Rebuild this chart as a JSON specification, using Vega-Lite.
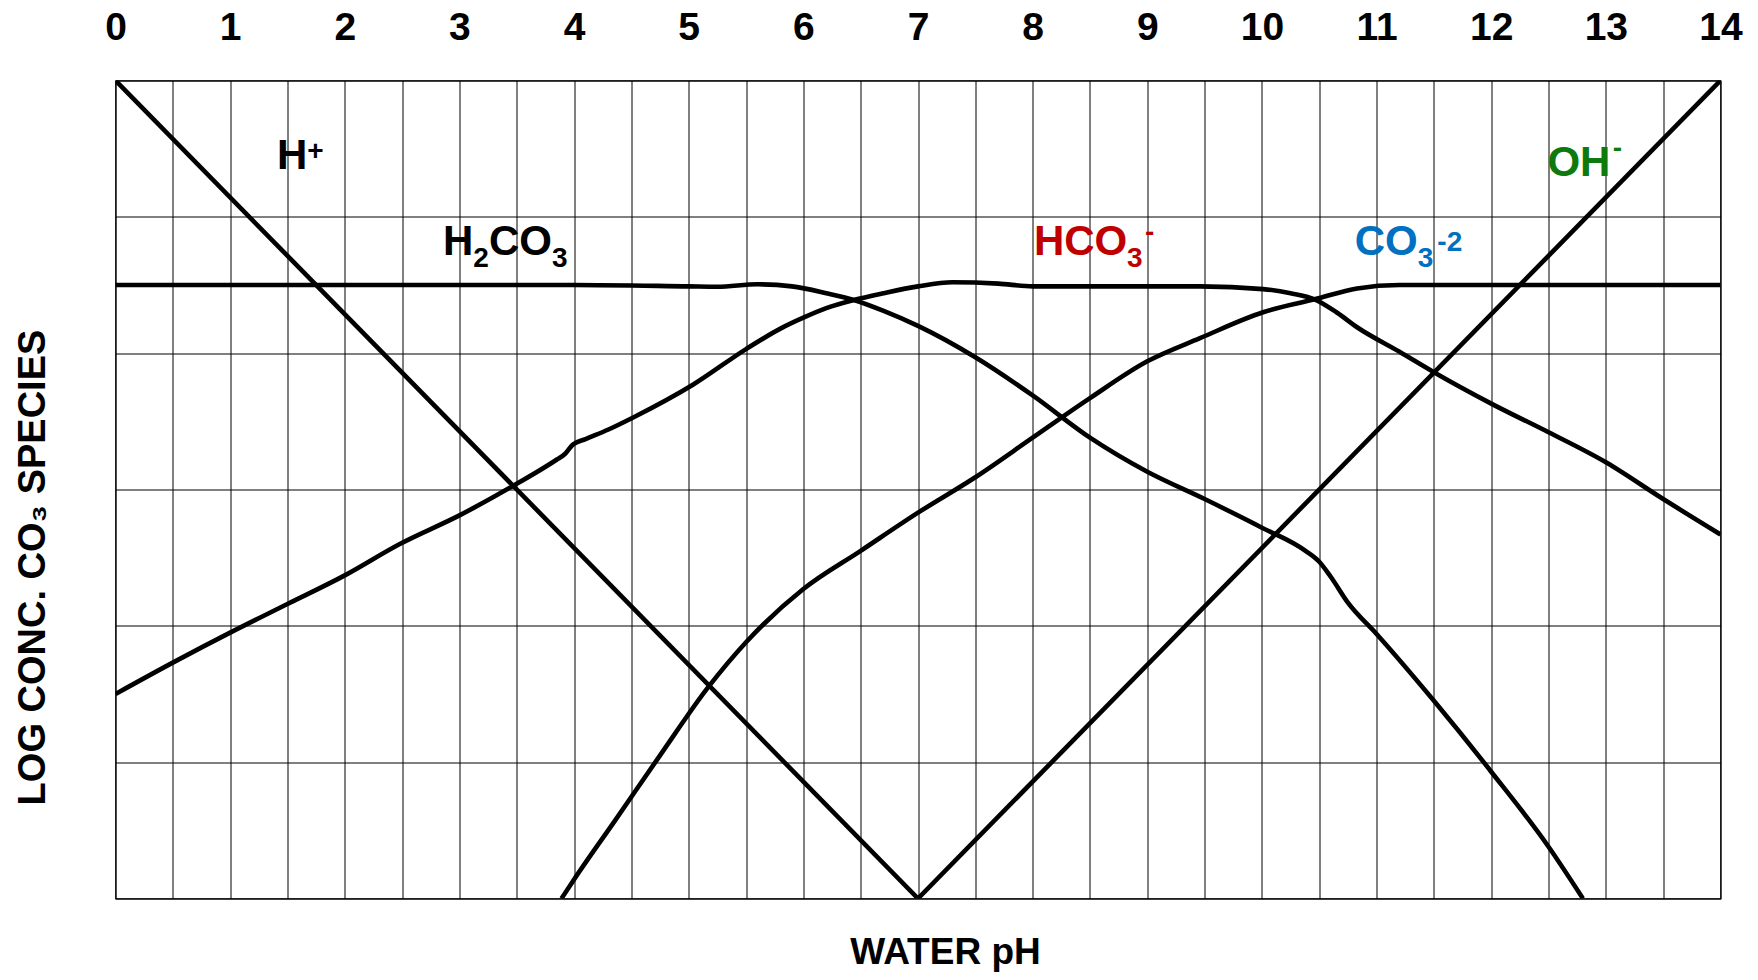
{
  "$schema": "https://vega.github.io/schema/vega-lite/v6.json",
  "width": 1605,
  "height": 818,
  "autosize": {"type": "none"},
  "padding": {"left": 115.5, "top": 80.5, "right": 37.5, "bottom": 81.5},
  "background": "white",
  "config": {"view": {"stroke": "black", "strokeWidth": 1.2}, "font": "Liberation Sans"},
  "title": {"text": "WATER pH", "orient": "bottom", "anchor": "middle", "fontSize": 37, "font": "Liberation Sans", "fontWeight": "bold", "color": "black", "dx": 27.5, "offset": 36},
  "datasets": {
    "curves": [
      {"series": "H+", "ph": 0, "level": 6},
      {"series": "H+", "ph": 7, "level": 0},
      {"series": "OH-", "ph": 7, "level": 0},
      {"series": "OH-", "ph": 14, "level": 6},
      {"series": "H2CO3", "ph": 0, "level": 4.5},
      {"series": "H2CO3", "ph": 2, "level": 4.5},
      {"series": "H2CO3", "ph": 4, "level": 4.5},
      {"series": "H2CO3", "ph": 5, "level": 4.49},
      {"series": "H2CO3", "ph": 5.25, "level": 4.487},
      {"series": "H2CO3", "ph": 5.6, "level": 4.505},
      {"series": "H2CO3", "ph": 5.9, "level": 4.49},
      {"series": "H2CO3", "ph": 6.2, "level": 4.44},
      {"series": "H2CO3", "ph": 6.44, "level": 4.39},
      {"series": "H2CO3", "ph": 6.7, "level": 4.31},
      {"series": "H2CO3", "ph": 7, "level": 4.2},
      {"series": "H2CO3", "ph": 7.5, "level": 3.97},
      {"series": "H2CO3", "ph": 8, "level": 3.69},
      {"series": "H2CO3", "ph": 8.5, "level": 3.38},
      {"series": "H2CO3", "ph": 9, "level": 3.13},
      {"series": "H2CO3", "ph": 9.5, "level": 2.93},
      {"series": "H2CO3", "ph": 10, "level": 2.72},
      {"series": "H2CO3", "ph": 10.38, "level": 2.55},
      {"series": "H2CO3", "ph": 10.5, "level": 2.47},
      {"series": "H2CO3", "ph": 10.6, "level": 2.36},
      {"series": "H2CO3", "ph": 10.75, "level": 2.17},
      {"series": "H2CO3", "ph": 11, "level": 1.94},
      {"series": "H2CO3", "ph": 11.5, "level": 1.45},
      {"series": "H2CO3", "ph": 12, "level": 0.93},
      {"series": "H2CO3", "ph": 12.5, "level": 0.38},
      {"series": "H2CO3", "ph": 12.8, "level": 0},
      {"series": "HCO3-", "ph": 0, "level": 1.5},
      {"series": "HCO3-", "ph": 0.5, "level": 1.73},
      {"series": "HCO3-", "ph": 1, "level": 1.95},
      {"series": "HCO3-", "ph": 1.5, "level": 2.16},
      {"series": "HCO3-", "ph": 2, "level": 2.37},
      {"series": "HCO3-", "ph": 2.48, "level": 2.6},
      {"series": "HCO3-", "ph": 3, "level": 2.81},
      {"series": "HCO3-", "ph": 3.455, "level": 3.02},
      {"series": "HCO3-", "ph": 3.85, "level": 3.22},
      {"series": "HCO3-", "ph": 3.92, "level": 3.26},
      {"series": "HCO3-", "ph": 3.99, "level": 3.33},
      {"series": "HCO3-", "ph": 4.1, "level": 3.37},
      {"series": "HCO3-", "ph": 4.3, "level": 3.44},
      {"series": "HCO3-", "ph": 4.52, "level": 3.53},
      {"series": "HCO3-", "ph": 5.04, "level": 3.77},
      {"series": "HCO3-", "ph": 5.5, "level": 4.03},
      {"series": "HCO3-", "ph": 5.8, "level": 4.18},
      {"series": "HCO3-", "ph": 6, "level": 4.26},
      {"series": "HCO3-", "ph": 6.2, "level": 4.33},
      {"series": "HCO3-", "ph": 6.44, "level": 4.39},
      {"series": "HCO3-", "ph": 6.7, "level": 4.44},
      {"series": "HCO3-", "ph": 7, "level": 4.49},
      {"series": "HCO3-", "ph": 7.3, "level": 4.52},
      {"series": "HCO3-", "ph": 7.7, "level": 4.51},
      {"series": "HCO3-", "ph": 8, "level": 4.49},
      {"series": "HCO3-", "ph": 9, "level": 4.49},
      {"series": "HCO3-", "ph": 9.46, "level": 4.49},
      {"series": "HCO3-", "ph": 10.01, "level": 4.47},
      {"series": "HCO3-", "ph": 10.25, "level": 4.44},
      {"series": "HCO3-", "ph": 10.46, "level": 4.395},
      {"series": "HCO3-", "ph": 10.65, "level": 4.3},
      {"series": "HCO3-", "ph": 10.83, "level": 4.19},
      {"series": "HCO3-", "ph": 11.2, "level": 4.01},
      {"series": "HCO3-", "ph": 11.5, "level": 3.86},
      {"series": "HCO3-", "ph": 12, "level": 3.63},
      {"series": "HCO3-", "ph": 12.5, "level": 3.42},
      {"series": "HCO3-", "ph": 13, "level": 3.2},
      {"series": "HCO3-", "ph": 13.5, "level": 2.93},
      {"series": "HCO3-", "ph": 14, "level": 2.67},
      {"series": "CO3-2", "ph": 3.89, "level": 0},
      {"series": "CO3-2", "ph": 4.0, "level": 0.14},
      {"series": "CO3-2", "ph": 4.36, "level": 0.575},
      {"series": "CO3-2", "ph": 4.75, "level": 1.05},
      {"series": "CO3-2", "ph": 5.17, "level": 1.55},
      {"series": "CO3-2", "ph": 5.5, "level": 1.88},
      {"series": "CO3-2", "ph": 6, "level": 2.27},
      {"series": "CO3-2", "ph": 6.5, "level": 2.55},
      {"series": "CO3-2", "ph": 7, "level": 2.83},
      {"series": "CO3-2", "ph": 7.5, "level": 3.09},
      {"series": "CO3-2", "ph": 8, "level": 3.38},
      {"series": "CO3-2", "ph": 8.5, "level": 3.67},
      {"series": "CO3-2", "ph": 9, "level": 3.94},
      {"series": "CO3-2", "ph": 9.46, "level": 4.11},
      {"series": "CO3-2", "ph": 10.01, "level": 4.3},
      {"series": "CO3-2", "ph": 10.46, "level": 4.395},
      {"series": "CO3-2", "ph": 10.83, "level": 4.475},
      {"series": "CO3-2", "ph": 11.2, "level": 4.5},
      {"series": "CO3-2", "ph": 12, "level": 4.5},
      {"series": "CO3-2", "ph": 14, "level": 4.5}
    ],
    "labels": [
      {"text": "H", "ph": 1.408, "level": 5.351, "species": "H+", "role": "main"},
      {"text": "+", "ph": 1.673, "level": 5.417, "species": "H+", "role": "script"},
      {"text": "H", "ph": 2.856, "level": 4.719, "species": "H2CO3", "role": "main"},
      {"text": "2", "ph": 3.121, "level": 4.635, "species": "H2CO3", "role": "script"},
      {"text": "CO", "ph": 3.257, "level": 4.719, "species": "H2CO3", "role": "main"},
      {"text": "3", "ph": 3.807, "level": 4.635, "species": "H2CO3", "role": "script"},
      {"text": "HCO", "ph": 8.011, "level": 4.719, "species": "HCO3-", "role": "main"},
      {"text": "3", "ph": 8.824, "level": 4.635, "species": "HCO3-", "role": "script"},
      {"text": "-", "ph": 8.979, "level": 4.82, "species": "HCO3-", "role": "script"},
      {"text": "CO", "ph": 10.81, "level": 4.719, "species": "CO3-2", "role": "main"},
      {"text": "3", "ph": 11.36, "level": 4.635, "species": "CO3-2", "role": "script"},
      {"text": "-2", "ph": 11.53, "level": 4.75, "species": "CO3-2", "role": "script"},
      {"text": "OH", "ph": 12.49, "level": 5.296, "species": "OH-", "role": "main"},
      {"text": "-", "ph": 13.06, "level": 5.442, "species": "OH-", "role": "script"}
    ]
  },
  "layer": [
    {
      "data": {"name": "curves"},
      "mark": {"type": "line", "strokeWidth": 4.6, "color": "black", "interpolate": "monotone", "clip": true},
      "encoding": {
        "x": {
          "field": "ph", "type": "quantitative",
          "scale": {"domain": [0, 14], "nice": false, "zero": false},
          "axis": {
            "orient": "top",
            "values": [0, 0.5, 1, 1.5, 2, 2.5, 3, 3.5, 4, 4.5, 5, 5.5, 6, 6.5, 7, 7.5, 8, 8.5, 9, 9.5, 10, 10.5, 11, 11.5, 12, 12.5, 13, 13.5, 14],
            "labelExpr": "datum.value % 1 === 0 ? format(datum.value, 'd') : ''",
            "grid": true, "gridColor": "black", "gridWidth": 1, "gridOpacity": 1,
            "domain": false, "ticks": false, "tickSize": 0,
            "labelPadding": 33, "labelFontSize": 39, "labelFontWeight": "bold", "labelFont": "Liberation Sans", "labelColor": "black",
            "labelFlush": false, "labelOverlap": false, "labelBound": false,
            "title": null
          }
        },
        "y": {
          "field": "level", "type": "quantitative",
          "scale": {"domain": [0, 6], "nice": false, "zero": false},
          "axis": {
            "values": [0, 1, 2, 3, 4, 5, 6],
            "grid": true, "gridColor": "black", "gridWidth": 1, "gridOpacity": 1,
            "labels": false, "ticks": false, "domain": false,
            "title": "LOG CONC. CO₃ SPECIES",
            "titleFontSize": 38, "titleFontWeight": "bold", "titleFont": "Liberation Sans", "titleColor": "black",
            "titleX": -82, "titleY": 486.5, "titleAngle": 270, "titleAlign": "center", "titleBaseline": "middle"
          }
        },
        "detail": {"field": "series", "type": "nominal"}
      }
    },
    {
      "data": {"name": "labels"},
      "mark": {"type": "text", "align": "left", "baseline": "alphabetic", "fontWeight": "bold", "font": "Liberation Sans"},
      "encoding": {
        "x": {"field": "ph", "type": "quantitative", "scale": {"domain": [0, 14], "nice": false, "zero": false}},
        "y": {"field": "level", "type": "quantitative", "scale": {"domain": [0, 6], "nice": false, "zero": false}},
        "text": {"field": "text", "type": "nominal"},
        "color": {"field": "species", "type": "nominal", "scale": {"domain": ["H+", "H2CO3", "HCO3-", "CO3-2", "OH-"], "range": ["black", "black", "#c00000", "#0070c0", "#0e7a0e"]}, "legend": null},
        "size": {"field": "role", "type": "ordinal", "scale": {"domain": ["main", "script"], "range": [42, 28]}, "legend": null}
      }
    }
  ]
}
